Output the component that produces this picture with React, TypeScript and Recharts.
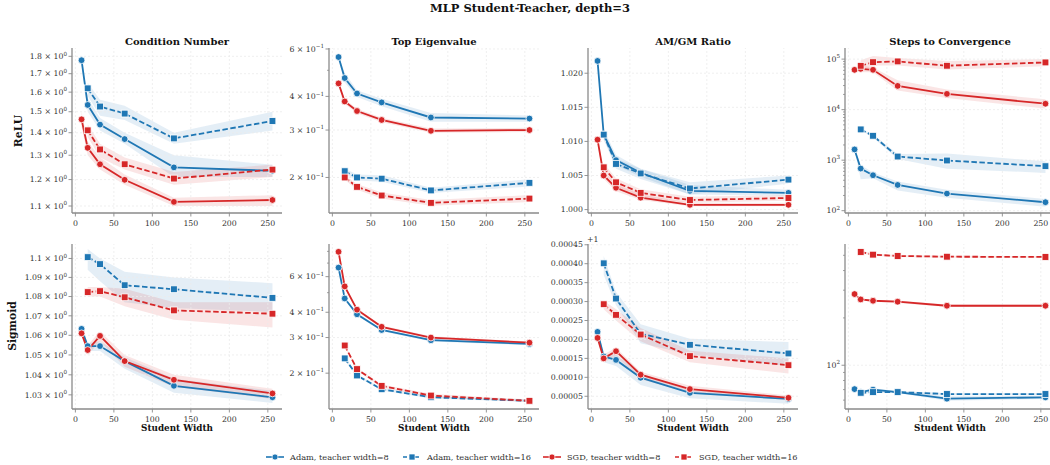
import React from "react";
import { ComposedChart, Line, Area, XAxis, YAxis, ReferenceLine } from "recharts";

const BLUE = "#1f77b4";
const RED = "#d62728";
const FONT = "DejaVu Serif, Liberation Serif, serif";
const AXIS = "#8a8a8a";
const GRID = "#ebebeb";

const widthsT8 = [8, 16, 32, 64, 128, 256];
const widthsT16 = [16, 32, 64, 128, 256];
const xTicks = [0, 50, 100, 150, 200, 250];

// each entry: [mean, band low, band high]
const reluCondAdam8 = [[1.777, 1.76, 1.79], [1.534, 1.5, 1.57], [1.438, 1.41, 1.47], [1.371, 1.35, 1.4], [1.249, 1.21, 1.3], [1.235, 1.21, 1.26]];
const reluCondAdam16 = [[1.62, 1.58, 1.65], [1.526, 1.48, 1.56], [1.491, 1.46, 1.53], [1.374, 1.35, 1.4], [1.455, 1.41, 1.5]];
const reluCondSgd8 = [[1.463, 1.43, 1.5], [1.332, 1.3, 1.36], [1.262, 1.24, 1.29], [1.199, 1.18, 1.22], [1.115, 1.1, 1.13], [1.122, 1.1, 1.14]];
const reluCondSgd16 = [[1.411, 1.38, 1.44], [1.325, 1.29, 1.35], [1.262, 1.24, 1.29], [1.204, 1.18, 1.23], [1.24, 1.21, 1.26]];

const reluEigAdam8 = [[0.56, 0.555, 0.565], [0.468, 0.45, 0.49], [0.41, 0.398, 0.422], [0.38, 0.368, 0.392], [0.334, 0.322, 0.347], [0.331, 0.322, 0.34]];
const reluEigAdam16 = [[0.211, 0.206, 0.216], [0.2, 0.195, 0.205], [0.198, 0.193, 0.204], [0.179, 0.175, 0.183], [0.191, 0.185, 0.197]];
const reluEigSgd8 = [[0.447, 0.442, 0.452], [0.383, 0.375, 0.391], [0.353, 0.346, 0.36], [0.327, 0.321, 0.333], [0.298, 0.293, 0.304], [0.3, 0.295, 0.306]];
const reluEigSgd16 = [[0.2, 0.196, 0.204], [0.1846, 0.18, 0.189], [0.1714, 0.167, 0.176], [0.161, 0.157, 0.165], [0.167, 0.162, 0.172]];

const reluAmgmAdam8 = [[1.0218, 1.0216, 1.022], [1.011, 1.0102, 1.0118], [1.00725, 1.0065, 1.008], [1.0054, 1.0048, 1.006], [1.00275, 1.0022, 1.0036], [1.00245, 1.002, 1.0029]];
const reluAmgmAdam16 = [[1.011, 1.0104, 1.0116], [1.0067, 1.006, 1.0075], [1.0053, 1.0045, 1.006], [1.0031, 1.0022, 1.004], [1.0044, 1.0038, 1.005]];
const reluAmgmSgd8 = [[1.01025, 1.0098, 1.0107], [1.005, 1.0045, 1.0056], [1.0032, 1.0027, 1.0037], [1.00175, 1.0014, 1.0022], [1.0007, 1.0005, 1.001], [1.0007, 1.0005, 1.001]];
const reluAmgmSgd16 = [[1.0062, 1.0056, 1.0068], [1.004, 1.0034, 1.0046], [1.00245, 1.0019, 1.003], [1.0014, 1.001, 1.0019], [1.0017, 1.0013, 1.0021]];

const reluStepsAdam8 = [[1630, 1600, 1660], [683, 420, 800], [503, 440, 570], [323, 250, 380], [218, 180, 260], [147, 120, 170]];
const reluStepsAdam16 = [[4060, 3900, 4200], [3040, 2800, 3250], [1180, 1050, 1320], [985, 680, 1350], [760, 560, 950]];
const reluStepsSgd8 = [[61400, 60000, 63000], [64200, 55000, 75000], [61400, 55000, 68000], [29500, 24000, 38000], [20500, 17000, 25000], [13100, 10500, 16000]];
const reluStepsSgd16 = [[73800, 55000, 95000], [87000, 75000, 115000], [90000, 75000, 105000], [74000, 62000, 92000], [86000, 72000, 100000]];

const sigCondAdam8 = [[1.0633, 1.062, 1.0645], [1.0545, 1.052, 1.056], [1.0545, 1.052, 1.057], [1.0469, 1.043, 1.049], [1.0345, 1.031, 1.038], [1.0288, 1.026, 1.032]];
const sigCondAdam16 = [[1.1007, 1.094, 1.105], [1.097, 1.088, 1.1], [1.0859, 1.077, 1.093], [1.0838, 1.074, 1.09], [1.0793, 1.072, 1.087]];
const sigCondSgd8 = [[1.061, 1.06, 1.062], [1.0525, 1.05, 1.055], [1.0597, 1.057, 1.062], [1.0469, 1.044, 1.05], [1.0375, 1.034, 1.04], [1.0307, 1.028, 1.033]];
const sigCondSgd16 = [[1.0823, 1.08, 1.085], [1.0828, 1.08, 1.085], [1.0796, 1.075, 1.084], [1.0728, 1.068, 1.077], [1.0711, 1.064, 1.077]];

const sigEigAdam8 = [[0.665, 0.655, 0.675], [0.468, 0.46, 0.476], [0.391, 0.385, 0.397], [0.327, 0.322, 0.332], [0.291, 0.287, 0.295], [0.279, 0.275, 0.283]];
const sigEigAdam16 = [[0.2366, 0.233, 0.24], [0.1948, 0.192, 0.198], [0.1665, 0.164, 0.169], [0.152, 0.15, 0.154], [0.146, 0.144, 0.148]];
const sigEigSgd8 = [[0.796, 0.785, 0.807], [0.537, 0.528, 0.546], [0.412, 0.405, 0.419], [0.339, 0.334, 0.344], [0.3, 0.296, 0.304], [0.283, 0.279, 0.287]];
const sigEigSgd16 = [[0.274, 0.27, 0.278], [0.2094, 0.206, 0.213], [0.173, 0.17, 0.176], [0.155, 0.152, 0.158], [0.146, 0.144, 0.148]];

// AM/GM ratio minus 1 (axis shows a "+1" offset)
const sigAmgmAdam8 = [[0.00022, 0.000215, 0.000225], [0.000155, 0.00014, 0.00016], [0.000146, 0.00013, 0.00016], [0.000099, 0.00008, 0.00011], [0.000059, 0.000045, 0.000065], [0.000043, 0.00003, 0.00005]];
const sigAmgmAdam16 = [[0.000401, 0.00037, 0.00042], [0.000308, 0.00029, 0.000325], [0.000215, 0.00019, 0.00024], [0.000186, 0.00016, 0.000202], [0.000163, 0.00013, 0.000193]];
const sigAmgmSgd8 = [[0.000204, 0.0002, 0.00021], [0.00015, 0.00014, 0.00016], [0.000169, 0.000155, 0.000178], [0.000107, 0.000095, 0.000115], [0.000069, 0.00006, 0.000078], [0.000046, 0.00004, 0.000052]];
const sigAmgmSgd16 = [[0.000293, 0.00028, 0.000302], [0.000265, 0.00025, 0.00028], [0.000213, 0.000195, 0.00023], [0.000156, 0.00014, 0.00017], [0.000132, 0.00011, 0.00015]];

const sigStepsAdam8 = [[70.5, 69.5, 71.5], [67.5, 66.5, 68.5], [70, 68.5, 71.5], [67.5, 66.5, 68.5], [61.3, 59.5, 63.5], [62.5, 61, 64]];
const sigStepsAdam16 = [[66.8, 66, 67.6], [67.5, 66.5, 68.5], [67.5, 66.5, 68.5], [65.6, 64.5, 66.7], [65.6, 64.5, 66.7]];
const sigStepsSgd8 = [[283.5, 279, 288], [262, 258, 266], [257, 253, 261], [253.5, 249, 258], [239, 235, 243], [239, 235, 243]];
const sigStepsSgd16 = [[525, 515, 535], [505, 497, 513], [495, 488, 502], [490, 483, 497], [488, 481, 495]];

const condTicks = [1.1, 1.2, 1.3, 1.4, 1.5, 1.6, 1.7, 1.8];
const sigCondTicks = [1.03, 1.04, 1.05, 1.06, 1.07, 1.08, 1.09, 1.1];
const eigTicks = [0.2, 0.3, 0.4, 0.6];
const amgmTicks = [1.0, 1.005, 1.01, 1.015, 1.02];
const sigAmgmTicks = [0.00005, 0.0001, 0.00015, 0.0002, 0.00025, 0.0003, 0.00035, 0.0004, 0.00045];
const stepsTicks = [100, 1000, 10000, 100000];
const stepsMinor = [200, 300, 400, 500, 600, 700, 800, 900, 2000, 3000, 4000, 5000, 6000, 7000, 8000, 9000, 20000, 30000, 40000, 50000, 60000, 70000, 80000, 90000];
const sigStepsTicks = [100];
const sigStepsMinor = [60, 70, 80, 90, 200, 300, 400, 500];

const legendLabels = ["Adam, teacher width=8", "Adam, teacher width=16", "SGD, teacher width=8", "SGD, teacher width=16"];

function buildRows(a8, a16, s8, s16) {
  return widthsT8.map((w, i) => {
    const j = widthsT16.indexOf(w);
    const pick = (arr, k) => (k >= 0 ? arr[k] : null);
    const row: any = { x: w };
    const series = { a8: pick(a8, i), a16: pick(a16, j), s8: pick(s8, i), s16: pick(s16, j) };
    Object.entries(series).forEach(([key, v]: any) => {
      row[key] = v ? v[0] : null;
      row[key + "Band"] = v ? [v[1], v[2]] : null;
    });
    return row;
  });
}

function sciLabel(v) {
  const e = Math.floor(Math.log10(v) + 1e-9);
  const m = Number((v / Math.pow(10, e)).toPrecision(3));
  const exp = e < 0 ? "\u2212" + Math.abs(e) : String(e);
  return { base: m === 1 ? "10" : `${m} \u00d7 10`, exp };
}

const panels = [
  { title: "Condition Number", log: true, domain: [1.075, 1.85], major: condTicks, minor: [], fmt: "sci", rows: buildRows(reluCondAdam8, reluCondAdam16, reluCondSgd8, reluCondSgd16) },
  { title: "Top Eigenvalue", log: true, domain: [0.1476, 0.605], major: eigTicks, minor: [0.5], fmt: "sci", rows: buildRows(reluEigAdam8, reluEigAdam16, reluEigSgd8, reluEigSgd16) },
  { title: "AM/GM Ratio", log: false, domain: [0.9995, 1.0237], major: amgmTicks, minor: [], fmt: "f3", rows: buildRows(reluAmgmAdam8, reluAmgmAdam16, reluAmgmSgd8, reluAmgmSgd16) },
  { title: "Steps to Convergence", log: true, domain: [90, 166000], major: stepsTicks, minor: stepsMinor, fmt: "sci", rows: buildRows(reluStepsAdam8, reluStepsAdam16, reluStepsSgd8, reluStepsSgd16) },
  { title: "", log: true, domain: [1.023, 1.1077], major: sigCondTicks, minor: [], fmt: "sci", rows: buildRows(sigCondAdam8, sigCondAdam16, sigCondSgd8, sigCondSgd16) },
  { title: "", log: true, domain: [0.133, 0.87], major: eigTicks, minor: [0.5, 0.7, 0.8], fmt: "sci", rows: buildRows(sigEigAdam8, sigEigAdam16, sigEigSgd8, sigEigSgd16) },
  { title: "", log: false, domain: [0.0000164, 0.000452], major: sigAmgmTicks, minor: [], fmt: "f5", rows: buildRows(sigAmgmAdam8, sigAmgmAdam16, sigAmgmSgd8, sigAmgmSgd16) },
  { title: "", log: true, domain: [52.7, 590], major: sigStepsTicks, minor: sigStepsMinor, fmt: "sci", rows: buildRows(sigStepsAdam8, sigStepsAdam16, sigStepsSgd8, sigStepsSgd16) },
];

const COLS = [72, 329, 588, 845];
const ROWS = [48, 244];
const PW = 210;
const PH = 165;
const PAD_L = 70;
const PAD_T = 10;
const TICK_FS = 7.8;

const makeYTick = (fmt, majors) => (props) => {
  const { x, y, payload } = props;
  const v = payload.value;
  const isMajor = majors.some((m) => Math.abs(m - v) < Math.abs(v) * 1e-6);
  if (!isMajor) {
    return <line key={`m${v}`} x1={x - 2} x2={x} y1={y} y2={y} stroke={AXIS} strokeWidth={0.8} />;
  }
  let label: any;
  if (fmt === "sci") {
    const { base, exp } = sciLabel(v);
    label = (
      <text x={x - 5} y={y} dy="0.35em" textAnchor="end" fontSize={TICK_FS} fontFamily={FONT} fill="#333">
        {base}
        <tspan dy={-3.5} fontSize={5.6}>{exp}</tspan>
      </text>
    );
  } else {
    label = (
      <text x={x - 5} y={y} dy="0.35em" textAnchor="end" fontSize={TICK_FS} fontFamily={FONT} fill="#333">
        {v.toFixed(fmt === "f3" ? 3 : 5)}
      </text>
    );
  }
  return (
    <g key={`t${v}`}>
      <line x1={x - 3.5} x2={x} y1={y} y2={y} stroke={AXIS} strokeWidth={0.9} />
      {label}
    </g>
  );
};

const XTick = (props) => {
  const { x, y, payload } = props;
  return (
    <g>
      <line x1={x} x2={x} y1={y} y2={y + 3.5} stroke={AXIS} strokeWidth={0.9} />
      <text x={x} y={y + 10.5} dy="0.35em" textAnchor="middle" fontSize={TICK_FS} fontFamily={FONT} fill="#333">
        {payload.value}
      </text>
    </g>
  );
};

const circleDot = (color) => (props) => {
  const { cx, cy, index } = props;
  if (cx == null || cy == null) return <g key={`c${index}`} />;
  return <circle key={`c${index}`} cx={cx} cy={cy} r={3.4} fill={color} stroke="#fff" strokeWidth={0.8} />;
};

const squareDot = (color) => (props) => {
  const { cx, cy, index } = props;
  if (cx == null || cy == null) return <g key={`s${index}`} />;
  return <rect key={`s${index}`} x={cx - 3.4} y={cy - 3.4} width={6.8} height={6.8} fill={color} stroke="#fff" strokeWidth={0.8} />;
};

const seriesDefs = [
  { key: "a8", color: BLUE, dash: undefined, dot: circleDot(BLUE) },
  { key: "a16", color: BLUE, dash: "5.5 2.5", dot: squareDot(BLUE) },
  { key: "s8", color: RED, dash: undefined, dot: circleDot(RED) },
  { key: "s16", color: RED, dash: "5.5 2.5", dot: squareDot(RED) },
];

function Panel({ p, left, top }) {
  return (
    <div style={{ position: "absolute", left: left - PAD_L, top: top - PAD_T }}>
      <ComposedChart width={PAD_L + PW + 10} height={PAD_T + PH + 30} data={p.rows} margin={{ top: PAD_T, right: 10, bottom: 0, left: 0 }}>
        <XAxis
          dataKey="x"
          type="number"
          domain={[-4.4, 268.4]}
          ticks={xTicks}
          interval={0}
          tickSize={0}
          tickMargin={0}
          tick={XTick}
          axisLine={{ stroke: AXIS, strokeWidth: 1.3 }}
          tickLine={false}
          height={30}
          allowDataOverflow
        />
        <YAxis
          type="number"
          scale={p.log ? "log" : "linear"}
          domain={p.domain}
          ticks={[...p.major, ...p.minor]}
          interval={0}
          tickSize={0}
          tickMargin={0}
          tick={makeYTick(p.fmt, p.major)}
          axisLine={{ stroke: AXIS, strokeWidth: 1.3 }}
          tickLine={false}
          width={PAD_L}
          allowDataOverflow
        />
        {xTicks.map((v) => (
          <ReferenceLine key={`gx${v}`} x={v} stroke={GRID} strokeWidth={0.8} strokeDasharray="2 2" />
        ))}
        {p.major.map((v) => (
          <ReferenceLine key={`gy${v}`} y={v} stroke={GRID} strokeWidth={0.8} strokeDasharray="2 2" />
        ))}
        {seriesDefs.map((s) => (
          <Area
            key={`band-${s.key}`}
            type="linear"
            dataKey={`${s.key}Band`}
            stroke="none"
            fill={s.color}
            fillOpacity={0.12}
            dot={false}
            activeDot={false}
            isAnimationActive={false}
          />
        ))}
        {seriesDefs.map((s) => (
          <Line
            key={`line-${s.key}`}
            type="linear"
            dataKey={s.key}
            stroke={s.color}
            strokeWidth={1.8}
            strokeDasharray={s.dash}
            dot={s.dot}
            activeDot={false}
            isAnimationActive={false}
          />
        ))}
      </ComposedChart>
    </div>
  );
}

const legendX = [266, 403, 543, 675];

export default function App() {
  return (
    <div style={{ position: "absolute", left: 0, top: 0, width: 1050, height: 465, overflow: "hidden", background: "#fff" }}>
      {panels.map((p, i) => (
        <Panel key={i} p={p} left={COLS[i % 4]} top={ROWS[Math.floor(i / 4)]} />
      ))}
      <svg width={1050} height={465} style={{ position: "absolute", left: 0, top: 0, pointerEvents: "none" }} fontFamily={FONT}>
        <text x={530} y={8} dy="0.35em" textAnchor="middle" fontSize={11.5} fontWeight="bold" fill="#111">
          MLP Student-Teacher, depth=3
        </text>
        {panels.slice(0, 4).map((p, i) => (
          <text key={i} x={COLS[i] + PW / 2} y={41} dy="0.35em" textAnchor="middle" fontSize={10} fontWeight="bold" fill="#111">
            {p.title}
          </text>
        ))}
        {COLS.map((c, i) => (
          <text key={i} x={c + PW / 2} y={428} dy="0.35em" textAnchor="middle" fontSize={8.8} fontWeight="bold" fill="#111">
            Student Width
          </text>
        ))}
        <text transform="translate(18,131) rotate(-90)" dy="0.35em" textAnchor="middle" fontSize={10.8} fontWeight="bold" fill="#111">
          ReLU
        </text>
        <text transform="translate(12,326) rotate(-90)" dy="0.35em" textAnchor="middle" fontSize={10.8} fontWeight="bold" fill="#111">
          Sigmoid
        </text>
        <text x={587} y={239} dy="0.35em" fontSize={TICK_FS} fill="#333">
          +1
        </text>
        {seriesDefs.map((s, i) => {
          const x0 = legendX[i];
          const y0 = 457;
          return (
            <g key={i}>
              <line x1={x0} x2={x0 + 18} y1={y0} y2={y0} stroke={s.color} strokeWidth={1.6} strokeDasharray={s.dash ? "4 2" : undefined} />
              {s.key.endsWith("16") ? (
                <rect x={x0 + 6} y={y0 - 3} width={6} height={6} fill={s.color} stroke="#fff" strokeWidth={0.7} />
              ) : (
                <circle cx={x0 + 9} cy={y0} r={3} fill={s.color} stroke="#fff" strokeWidth={0.7} />
              )}
              <text x={x0 + 24} y={y0} dy="0.35em" fontSize={8.2} fill="#333">
                {legendLabels[i]}
              </text>
            </g>
          );
        })}
      </svg>
    </div>
  );
}
